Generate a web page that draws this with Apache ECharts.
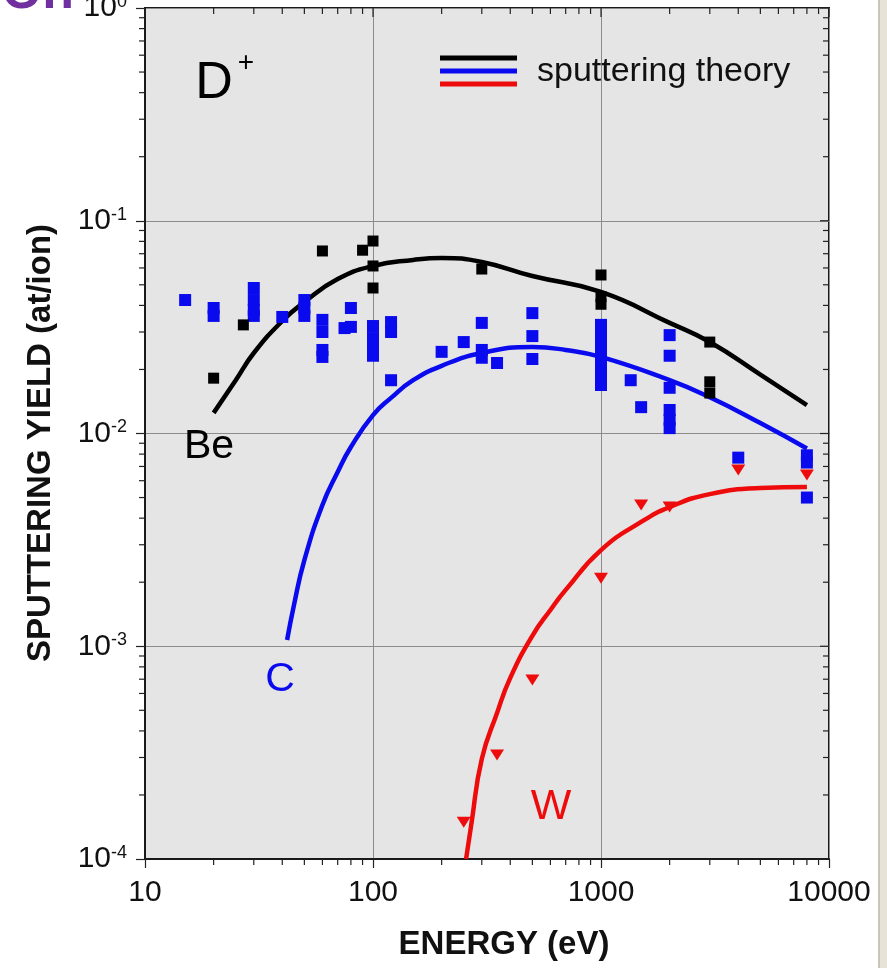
<!DOCTYPE html>
<html>
<head>
<meta charset="utf-8">
<script src="https://cdn.jsdelivr.net/npm/echarts@6/dist/echarts.min.js"></script>
<style>html,body{margin:0;padding:0;background:#fff;}#c{width:887px;height:968px;}</style>
</head>
<body>
<div id="c"></div>
<script>
// ---- theory curves ----
const beCurveE = [20,25,30,40,50,70,100,150,200,300,500,1000,2000,3000,5000,8000];
const beCurveY = [0.0125,0.0178,0.0239,0.0338,0.0415,0.0532,0.0613,0.0654,0.0668,0.064,0.055,0.0463,0.0331,0.0269,0.0189,0.0136];
const cCurveE = [42,45,50,60,70,80,100,120,150,200,300,500,700,1000,2000,3000,5000,8000];
const cCurveY = [0.00107,0.00156,0.00254,0.00461,0.00659,0.00864,0.0122,0.0147,0.0178,0.0208,0.0239,0.0255,0.0247,0.0229,0.0178,0.0148,0.0112,0.0085];
const wCurveE = [256,270,300,350,400,500,600,700,1000,1500,2000,3000,5000,8000];
const wCurveY = [1.0e-4,1.46e-4,2.95e-4,4.86e-4,7.1e-4,1.12e-3,1.48e-3,1.84e-3,2.83e-3,3.84e-3,4.51e-3,5.19e-3,5.54e-3,5.6e-3];
// ---- measured data ----
const beDataE = [20,27,60,90,100,100,100,300,1000,1000,1000,3000,3000,3000];
const beDataY = [0.0182,0.0324,0.0721,0.0727,0.0803,0.0613,0.0483,0.0593,0.0556,0.0440,0.0405,0.0269,0.0175,0.0155];
const cDataE = [15,20,20,30,30,30,30,40,50,50,50,60,60,60,60,75,80,80,100,100,100,100,120,120,120,200,250,300,300,300,350,500,500,500,1000,1000,1000,1000,1000,1000,1000,1350,1500,2000,2000,2000,2000,2000,2000,4000,8000,8000,8000];
const cDataY = [0.0424,0.0389,0.0357,0.0483,0.0424,0.0381,0.0357,0.0353,0.0424,0.0389,0.0357,0.0342,0.0300,0.0247,0.0229,0.0313,0.0389,0.0317,0.0320,0.0281,0.0247,0.0232,0.0334,0.0300,0.0178,0.0242,0.0269,0.0331,0.0247,0.0227,0.02145,0.0368,0.0287,0.0224,0.0324,0.029,0.026,0.0234,0.021,0.0188,0.0169,0.0178,0.0133,0.029,0.0232,0.0164,0.0129,0.0116,0.0106,0.0077,0.0079,0.0073,0.0050];
const wDataE = [250,350,500,1000,1500,2000,4000,8000];
const wDataY = [1.49e-4,3.08e-4,6.94e-4,2.09e-3,4.61e-3,4.51e-3,6.74e-3,6.38e-3];
// ---- axes ----
const xMin = 10, xMax = 10000, yMin = 1e-4, yMax = 1;
const xMajor = [10,100,1000,10000];
const yMajor = [1e-4,1e-3,1e-2,1e-1,1];
const xMinor = [20,30,40,50,60,70,80,90,200,300,400,500,600,700,800,900,2000,3000,4000,5000,6000,7000,8000,9000];
const yMinor = [];
[1e-4,1e-3,1e-2,1e-1].forEach(d => { for (let k = 2; k <= 9; k++) yMinor.push(+(d*k).toPrecision(3)); });

const FONT = "'Liberation Sans', Arial, Helvetica, sans-serif";
const zip = (a, b) => a.map((v, i) => [v, b[i]]);

const chart = echarts.init(document.getElementById('c'), null, {renderer: 'canvas'});

function xTicks(len) {
  return function (params, api) {
    const x = api.coord([api.value(0), yMin])[0];
    const yb = api.coord([xMin, yMin])[1];
    const yt = api.coord([xMin, yMax])[1];
    const st = {stroke: '#222', lineWidth: 1.2};
    return {type: 'group', children: [
      {type: 'line', shape: {x1: x, y1: yb, x2: x, y2: yb + len}, style: st},
      {type: 'line', shape: {x1: x, y1: yt, x2: x, y2: yt + len}, style: st}
    ]};
  };
}
function yTicks(len) {
  return function (params, api) {
    const y = api.coord([xMin, api.value(1)])[1];
    const xl = api.coord([xMin, yMin])[0];
    const xr = api.coord([xMax, yMin])[0];
    const st = {stroke: '#222', lineWidth: 1.2};
    return {type: 'group', children: [
      {type: 'line', shape: {x1: xl - len, y1: y, x2: xl, y2: y}, style: st},
      {type: 'line', shape: {x1: xr - len, y1: y, x2: xr, y2: y}, style: st}
    ]};
  };
}

const option = {
  backgroundColor: '#ffffff',
  animation: false,
  grid: {left: 145, right: 58, top: 8, bottom: 109, show: true, backgroundColor: '#e5e5e5',
         borderColor: '#1a1a1a', borderWidth: 2, containLabel: false, outerBoundsMode: 'none'},
  xAxis: {
    type: 'log', logBase: 10, min: xMin, max: xMax,
    axisLine: {show: true, lineStyle: {color: '#1a1a1a', width: 2}},
    axisTick: {show: true, length: 9, lineStyle: {color: '#222', width: 1.2}},
    minorTick: {show: false},
    splitLine: {show: true, lineStyle: {color: '#8c8c8c', width: 1}},
    axisLabel: {fontFamily: FONT, fontSize: 30, color: '#111', margin: 19,
                formatter: v => String(Math.round(v)), showMinLabel: true, showMaxLabel: true}
  },
  yAxis: {
    type: 'log', logBase: 10, min: yMin, max: yMax,
    axisLine: {show: true, lineStyle: {color: '#1a1a1a', width: 2}},
    axisTick: {show: true, length: 9, lineStyle: {color: '#222', width: 1.2}},
    minorTick: {show: false},
    splitLine: {show: true, lineStyle: {color: '#8c8c8c', width: 1}},
    axisLabel: {
      margin: 18, showMinLabel: true, showMaxLabel: true,
      formatter: v => '{b|10}{s|' + Math.round(Math.log10(v)) + '}',
      rich: {
        b: {fontFamily: FONT, fontSize: 30, color: '#111', lineHeight: 30},
        s: {fontFamily: FONT, fontSize: 18, color: '#111', verticalAlign: 'top', lineHeight: 18}
      }
    }
  },
  series: [
    {type: 'custom', name: 'xminor', data: xMinor.map(v => [v, yMin]), renderItem: xTicks(6), clip: false, silent: true, z: 5},
    {type: 'custom', name: 'xmajortop', data: xMajor.map(v => [v, yMin]), renderItem: function (p, api) {
        const x = api.coord([api.value(0), yMin])[0];
        const yt = api.coord([xMin, yMax])[1];
        return {type: 'line', shape: {x1: x, y1: yt, x2: x, y2: yt + 9}, style: {stroke: '#222', lineWidth: 1.2}};
      }, clip: false, silent: true, z: 5},
    {type: 'custom', name: 'yminor', data: yMinor.map(v => [xMin, v]), renderItem: yTicks(6), clip: false, silent: true, z: 5},
    {type: 'custom', name: 'ymajorright', data: yMajor.map(v => [xMin, v]), renderItem: function (p, api) {
        const y = api.coord([xMin, api.value(1)])[1];
        const xr = api.coord([xMax, yMin])[0];
        return {type: 'line', shape: {x1: xr - 9, y1: y, x2: xr, y2: y}, style: {stroke: '#222', lineWidth: 1.2}};
      }, clip: false, silent: true, z: 5},
    {type: 'line', name: 'Be theory', data: zip(beCurveE, beCurveY), smooth: 0.5, showSymbol: false,
     lineStyle: {color: '#000000', width: 4.5}, z: 3},
    {type: 'line', name: 'C theory', data: zip(cCurveE, cCurveY), smooth: 0.5, showSymbol: false,
     lineStyle: {color: '#0a0aee', width: 4.5}, z: 3},
    {type: 'line', name: 'W theory', data: zip(wCurveE, wCurveY), smooth: 0.5, showSymbol: false,
     lineStyle: {color: '#ee0b0b', width: 4.5}, z: 3},
    {type: 'scatter', name: 'C data', data: zip(cDataE, cDataY), symbol: 'rect', symbolSize: 12,
     itemStyle: {color: '#0a0aee', opacity: 1}, z: 4},
    {type: 'scatter', name: 'Be data', data: zip(beDataE, beDataY), symbol: 'rect', symbolSize: 11,
     itemStyle: {color: '#000000', opacity: 1}, z: 4},
    {type: 'scatter', name: 'W data', data: zip(wDataE, wDataY), symbol: 'triangle', symbolRotate: 180, symbolSize: [14, 11],
     itemStyle: {color: '#ee0b0b', opacity: 1}, z: 4}
  ],
  graphic: [
    {type: 'text', x: 74, y: 20, style: {text: 'On', font: "bold 52px " + FONT, fill: '#7030a0', align: 'right', verticalAlign: 'bottom'}, z: 100},
    {type: 'rect', shape: {x: 879, y: 0, width: 8, height: 968}, style: {fill: '#e7e3d7'}, z: 100},
    {type: 'line', shape: {x1: 879, y1: 0, x2: 879, y2: 968}, style: {stroke: '#c9c5b9', lineWidth: 2}, z: 100},
    {type: 'text', x: 504, y: 945, style: {text: 'ENERGY (eV)', font: "bold 33px " + FONT, fill: '#111', align: 'center', verticalAlign: 'middle'}, z: 100},
    {type: 'text', x: 41, y: 443, rotation: Math.PI / 2, style: {text: 'SPUTTERING YIELD (at/ion)', font: "bold 33px " + FONT, fill: '#111', align: 'center', verticalAlign: 'middle'}, z: 100},
    {type: 'text', x: 214, y: 84, style: {text: 'D', font: "52px " + FONT, fill: '#000', align: 'center', verticalAlign: 'middle'}, z: 100},
    {type: 'text', x: 246, y: 63, style: {text: '+', font: "28px " + FONT, fill: '#000', align: 'center', verticalAlign: 'middle'}, z: 100},
    {type: 'text', x: 209, y: 447, style: {text: 'Be', font: "41px " + FONT, fill: '#000', align: 'center', verticalAlign: 'middle'}, z: 100},
    {type: 'text', x: 280, y: 680, style: {text: 'C', font: "41px " + FONT, fill: '#0a0aee', align: 'center', verticalAlign: 'middle'}, z: 100},
    {type: 'text', x: 551, y: 807, style: {text: 'W', font: "43px " + FONT, fill: '#ee0b0b', align: 'center', verticalAlign: 'middle'}, z: 100},
    {type: 'line', shape: {x1: 440, y1: 58, x2: 517, y2: 58}, style: {stroke: '#000', lineWidth: 5}, z: 100},
    {type: 'line', shape: {x1: 440, y1: 71, x2: 517, y2: 71}, style: {stroke: '#0a0aee', lineWidth: 5}, z: 100},
    {type: 'line', shape: {x1: 440, y1: 84, x2: 517, y2: 84}, style: {stroke: '#ee0b0b', lineWidth: 5}, z: 100},
    {type: 'text', x: 537, y: 72, style: {text: 'sputtering theory', font: "34px " + FONT, fill: '#111', align: 'left', verticalAlign: 'middle'}, z: 100}
  ]
};
chart.setOption(option);
</script>
</body>
</html>
